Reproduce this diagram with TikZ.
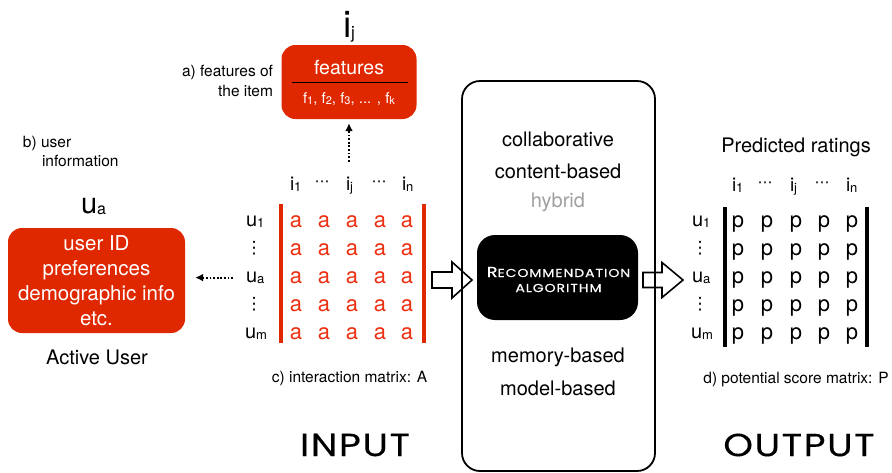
\documentclass[tikz,border=0pt]{standalone}
\usepackage{fontspec}
\setmainfont{TeX Gyre Heros}
\newfontfamily\geofont{Poppins}[FakeStretch=1.18, LetterSpace=5, FakeBold=0.25]
\newfontfamily\capsfont{Poppins}[FakeStretch=1.22, LetterSpace=8, FakeBold=0.6]
\newfontfamily\symfont{DejaVu Sans}
\usetikzlibrary{arrows.meta}
\definecolor{boxred}{RGB}{224,40,0}
\definecolor{cellred}{RGB}{236,48,18}
\definecolor{hybridgray}{RGB}{160,160,160}
\newcommand\fsz[1]{\fontsize{#1}{#1}\selectfont}
\newcommand\sbx[2][13]{\raisebox{-1.5pt}{\fsz{#1}#2}}
\newcommand\scap[1]{{\fsz{11.5}#1}}
\newcommand\hdots{{\symfont\fsz{15}⋯}}
\newcommand\vdotsym{{\symfont\fsz{17}⋮}}
\begin{document}
\begin{tikzpicture}[x=1pt, y=-1pt,
  txt/.style={inner sep=0, outer sep=0},
  note/.style={txt, font=\fsz{15.5}},
  body/.style={txt, font=\fsz{20}},
  lab/.style={txt, font=\fsz{20}, anchor=base west},
  hdr/.style={txt, font=\fsz{19}, anchor=base west},
  cellA/.style={txt, font=\fsz{22}, anchor=base, text=cellred},
  cellP/.style={txt, font=\fsz{22}, anchor=base},
  redbox/.style={fill=boxred, rounded corners=14pt, inner sep=0},
  redbar/.style={draw=boxred, line width=4pt},
  blackbar/.style={draw=black, line width=4pt},
  dotarrow/.style={line width=1.8pt, dash pattern=on 1.8pt off 1.8pt,
    -{Latex[length=8pt, width=8pt]}},
  hollow/.style={draw=black, line width=1.6pt, fill=white, line join=miter},
  bigword/.style={txt, font=\geofont\fsz{32}},
]
\useasboundingbox (0,0) rectangle (892,472);

% ---------- item features ----------
\node[txt, font=\fsz{37}, anchor=base west] (itemname) at (343,37) {i\sbx[17]{j}};
\node[redbox, minimum width=135pt, minimum height=74pt] (feat) at (349,82) {};
\node[txt, font=\fsz{19.5}, text=white] (feattitle) at (349,68) {features};
\draw[line width=1.6pt] (291.5,82.5) -- (407.5,82.5);
\node[txt, font=\fsz{15}, text=white] (featlist) at (349,99)
  {f\sbx[11]{1}, f\sbx[11]{2}, f\sbx[11]{3}, ... , f\sbx[11]{k}};
\node[note, anchor=east] (featnote1) at (273,72) {a) features of};
\node[note, anchor=east] (featnote2) at (273,91) {the item};

% ---------- active user ----------
\node[note, anchor=west] (unote1) at (23,143) {b) user};
\node[note, anchor=west] (unote2) at (42,161) {information};
\node[txt, font=\fsz{29}, anchor=base west] (uname) at (81,213) {u\sbx[16]{a}};
\node[redbox, minimum width=177pt, minimum height=105pt, align=center,
  text=white, font=\fontsize{20.5}{25}\selectfont] (user) at (96.5,280.5)
  {user ID\\preferences\\demographic info\\etc.};
\node[body] (active) at (97,357) {Active User};

% ---------- interaction matrix A ----------
\foreach \c [count=\i] in {296,324,352,380,407}
  \foreach \r [count=\j] in {221,249,277,305,333}
    \node[cellA] (a-\j-\i) at (\c,{\r+6}) {a};
\node[lab] (rA-1) at (246,226) {u\sbx{1}};
\node[txt] (rA-2) at (254,248) {\vdotsym};
\node[lab] (rA-3) at (246,282) {u\sbx{a}};
\node[txt] (rA-4) at (254,304) {\vdotsym};
\node[lab] (rA-5) at (245,338) {u\sbx{m}};
\node[hdr] (hA-1) at (290,190) {i\sbx{1}};
\node[txt] (hA-2) at (322,184) {\hdots};
\node[hdr] (hA-3) at (346,190) {i\sbx{j}};
\node[txt] (hA-4) at (379,184) {\hdots};
\node[hdr] (hA-5) at (402,190) {i\sbx{n}};
\draw[redbar] (281,204) -- (281,343);
\draw[redbar] (423.5,204) -- (423.5,343);
\node[note] (capA) at (349.5,378) {c) interaction matrix: A};

% dotted links from the matrix to the item and user descriptions
\draw[dotarrow] ([yshift=15pt]feat.south |- hA-3.north) -- ([yshift=-4pt]feat.south);
\draw[dotarrow] ([xshift=-13pt]rA-3.west) -- ([xshift=10pt]user.east |- rA-3.west);

% ---------- hollow flow arrows ----------
\coordinate (inTail) at (432,280);
\draw[hollow] (inTail) ++(0,-8) -- ++(20,0) -- ++(0,-10) -- ++(20,18)
  -- ++(-20,18) -- ++(0,-10) -- ++(-20,0) -- cycle;
\coordinate (outTail) at (643,280);
\draw[hollow] (outTail) ++(0,-7.5) -- ++(19,0) -- ++(0,-10) -- ++(21,17.5)
  -- ++(-21,17.5) -- ++(0,-10) -- ++(-19,0) -- cycle;

% ---------- algorithm panel ----------
\node[draw, rounded corners=18pt, line width=1.8pt, minimum width=193pt,
  minimum height=390pt, inner sep=0] (algo) at (558.5,276) {};
\node[body] (collab) at (558,139) {collaborative};
\node[body] (content) at (558,171) {content-based};
\node[body, text=hybridgray] (hybrid) at (558,202) {hybrid};
\node[fill=black, rounded corners=18pt, minimum width=161pt, minimum height=85pt,
  inner sep=0] (engine) at (557.5,277.5) {};
\node[txt, text=white, font=\capsfont\fsz{14.5}] (engine1) at (558.5,272) {R\scap{ECOMMENDATION}};
\node[txt, text=white, font=\capsfont\fsz{14.5}] (engine2) at (558.5,288) {\scap{ALGORITHM}};
\node[body] (memory) at (558,357) {memory-based};
\node[body] (model) at (558,388) {model-based};

% ---------- predicted ratings P ----------
\node[body] (predtitle) at (796,147) {Predicted ratings};
\foreach \c [count=\i] in {738,767,796,824,852}
  \foreach \r [count=\j] in {221,249,277,305,333}
    \node[cellP] (p-\j-\i) at (\c,{\r+6}) {p};
\node[lab] (rP-1) at (692,226) {u\sbx{1}};
\node[txt] (rP-2) at (700,248) {\vdotsym};
\node[lab] (rP-3) at (692,282) {u\sbx{a}};
\node[txt] (rP-4) at (700,304) {\vdotsym};
\node[lab] (rP-5) at (691,338) {u\sbx{m}};
\node[hdr] (hP-1) at (732,191) {i\sbx{1}};
\node[txt] (hP-2) at (765,185) {\hdots};
\node[hdr] (hP-3) at (790,191) {i\sbx{j}};
\node[txt] (hP-4) at (822,185) {\hdots};
\node[hdr] (hP-5) at (846,191) {i\sbx{n}};
\draw[blackbar] (725,207) -- (725,347);
\draw[blackbar] (867,207) -- (867,347);
\node[note] (capP) at (796,380) {d) potential score matrix: P};

% ---------- stage titles ----------
\node[bigword] (inputword) at (355,445) {INPUT};
\node[bigword] (outputword) at (799,445) {OUTPUT};
\end{tikzpicture}
\end{document}
